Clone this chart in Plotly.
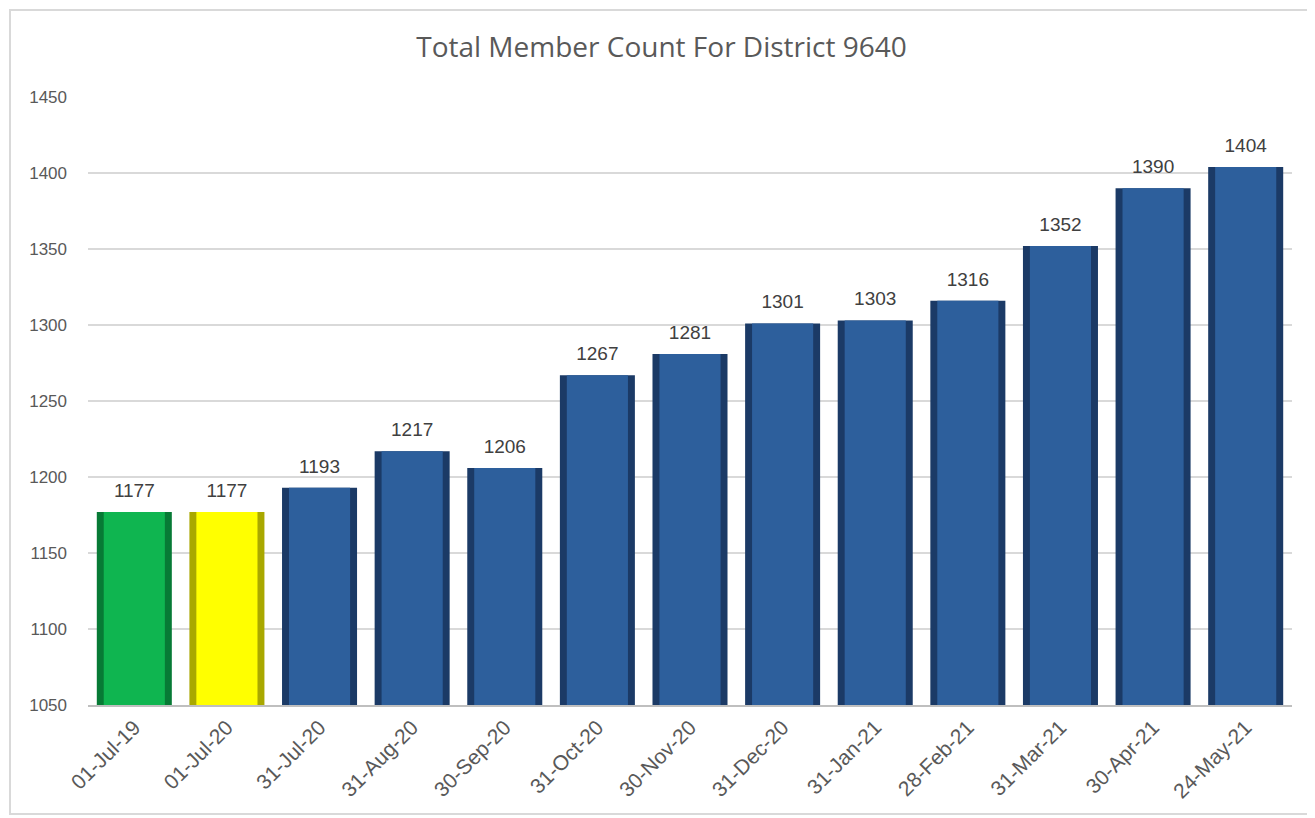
import plotly.graph_objects as go

categories = ["01-Jul-19", "01-Jul-20", "31-Jul-20", "31-Aug-20", "30-Sep-20", "31-Oct-20",
              "30-Nov-20", "31-Dec-20", "31-Jan-21", "28-Feb-21", "31-Mar-21", "30-Apr-21", "24-May-21"]
member_counts = [1177, 1177, 1193, 1217, 1206, 1267, 1281, 1301, 1303, 1316, 1352, 1390, 1404]
face_colors = ["#0FB550", "#FFFF00"] + ["#2D5F9C"] * 11
edge_colors = ["#077A35", "#A9A800"] + ["#1B3A66"] * 11
y_ticks = [1050, 1100, 1150, 1200, 1250, 1300, 1350, 1400, 1450]

# page is drawn with an 8px body offset
W, H = 1307, 810
ml, mr, mt, mb = 80, 23, 89, 113

fig = go.Figure()
fig.add_trace(go.Bar(
    x=categories, y=member_counts, width=0.81,
    marker=dict(color=edge_colors, line=dict(width=0)),
    hoverinfo="skip", showlegend=False,
))
fig.add_trace(go.Bar(
    x=categories, y=member_counts, width=0.66,
    marker=dict(color=face_colors, line=dict(width=0)),
    hoverinfo="skip", showlegend=False,
))
fig.add_trace(go.Scatter(
    x=categories, y=member_counts, mode="markers+text",
    marker=dict(size=15, opacity=0),
    text=[str(v) for v in member_counts], textposition="top center",
    textfont=dict(family="Liberation Sans, Arial", size=19, color="#404040"),
    cliponaxis=False, hoverinfo="skip", showlegend=False,
))

pw = W - ml - mr
ph = H - mt - mb
fig.add_shape(type="rect", xref="paper", yref="paper",
              x0=(2 - ml) / pw, x1=(1302 - ml) / pw,
              y0=(H - mb - 806) / ph, y1=(H - mb - 2) / ph,
              line=dict(color="#D9D9D9", width=2), layer="below")

fig.update_layout(
    width=W, height=H,
    margin=dict(l=ml, r=mr, t=mt, b=mb),
    barmode="overlay", bargap=0.19,
    paper_bgcolor="white", plot_bgcolor="white",
    title=dict(text="Total Member Count For District 9640", x=0.5, xanchor="center",
               y=1 - 39 / H, yanchor="middle",
               font=dict(family="Open Sans", size=28, color="#595959")),
    xaxis=dict(tickangle=-45, tickfont=dict(family="Liberation Sans, Arial", size=21, color="#595959"),
               showline=True, linecolor="#BFBFBF", linewidth=1.5, showgrid=False,
               ticks="", range=[-0.5, 12.5]),
    yaxis=dict(range=[1050, 1450], tickvals=y_ticks,
               tickfont=dict(family="Liberation Sans, Arial", size=17, color="#595959"),
               showgrid=True, gridcolor="#D9D9D9", gridwidth=1.5, zeroline=False,
               ticks="", ticklen=0),
)
fig.update_yaxes(ticklabelstandoff=20)

fig.write_html("out.html")
